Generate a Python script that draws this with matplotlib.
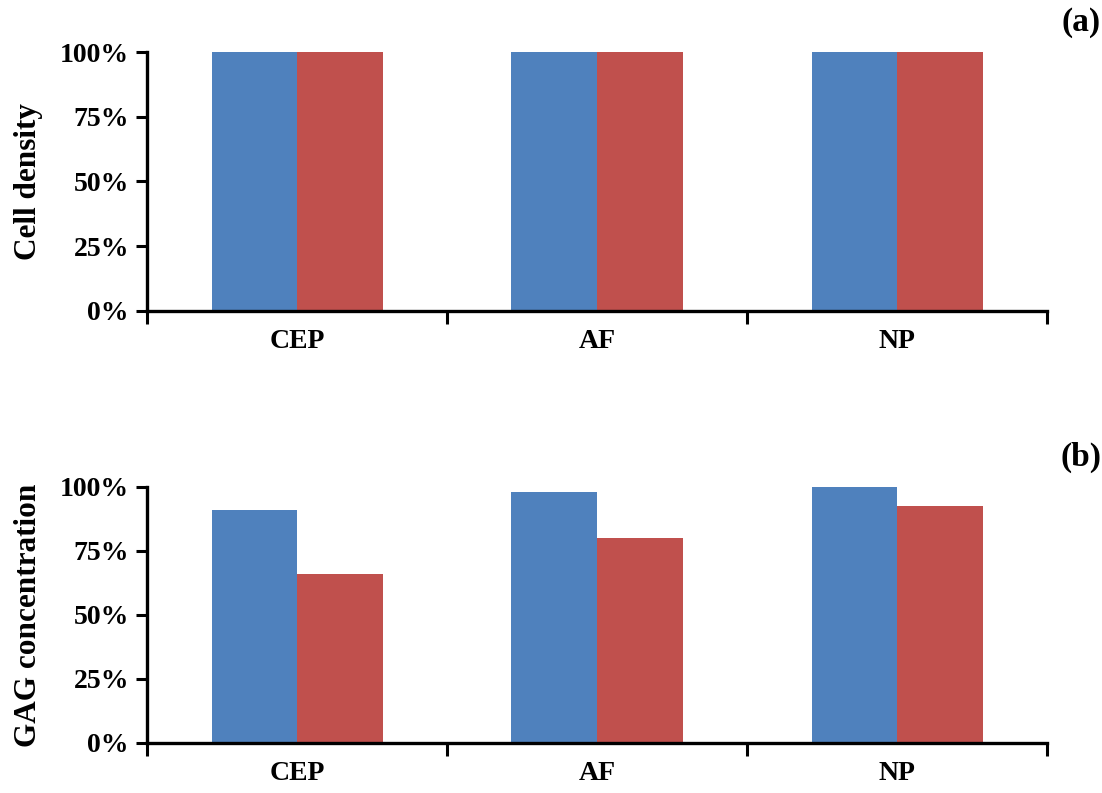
import matplotlib
matplotlib.use("Agg")
import matplotlib.pyplot as plt
from matplotlib.ticker import FixedLocator, FuncFormatter

categories = ["CEP", "AF", "NP"]
cell_density_s1 = [100, 100, 100]
cell_density_s2 = [100, 100, 100]
gag_s1 = [91, 98, 100]
gag_s2 = [66, 80, 92.5]
yticks = [0, 25, 50, 75, 100]
ylabels = ["Cell density", "GAG concentration"]
panel_labels = ["(a)", "(b)"]

plt.rcParams['font.family'] = ['Liberation Serif', 'DejaVu Serif']
plt.rcParams['font.weight'] = 'bold'

fig = plt.figure(figsize=(11.02, 7.93), dpi=100)
ax1 = fig.add_axes([147/1102, 1-311/793, 900/1102, 259/793])
ax2 = fig.add_axes([147/1102, 1-743/793, 900/1102, 256/793])

blue = "#4F81BD"
red = "#C0504D"
w = 0.285

for ax, s1, s2, yl, pl in [(ax1, cell_density_s1, cell_density_s2, ylabels[0], panel_labels[0]),
                           (ax2, gag_s1, gag_s2, ylabels[1], panel_labels[1])]:
    centers = [i + 0.5 for i in range(len(categories))]
    ax.bar([c - w/2 for c in centers], s1, width=w, color=blue, zorder=2)
    ax.bar([c + w/2 for c in centers], s2, width=w, color=red, zorder=2)
    ax.set_xlim(0, len(categories))
    ax.set_ylim(0, 100)
    ax.set_yticks(yticks)
    ax.yaxis.set_major_formatter(FuncFormatter(lambda v, p: f"{int(v)}%"))
    ax.xaxis.set_major_locator(FixedLocator(range(len(categories) + 1)))
    ax.xaxis.set_major_formatter(FuncFormatter(lambda v, p: ""))
    ax.xaxis.set_minor_locator(FixedLocator(centers))
    ax.set_xticklabels(categories, minor=True)
    ax.tick_params(axis='x', which='minor', length=0, pad=13, labelsize=20)
    ax.tick_params(axis='x', which='major', length=9, width=2.2, direction='out')
    ax.tick_params(axis='y', length=8, width=2.2, direction='out', labelsize=20, pad=5)
    for lab in ax.get_xticklabels(minor=True) + ax.get_yticklabels():
        lab.set_fontweight('bold')
    for sp in ['top', 'right']:
        ax.spines[sp].set_visible(False)
    for sp in ['left', 'bottom']:
        ax.spines[sp].set_linewidth(2.4)
    ax.set_ylabel(yl, fontsize=22.5, fontweight='bold', labelpad=12)

fig.text(1101/1102, 1-23/793, panel_labels[0], ha='right', va='center', fontsize=24, fontweight='bold')
fig.text(1101/1102, 1-457/793, panel_labels[1], ha='right', va='center', fontsize=24, fontweight='bold')

fig.savefig("out.png", dpi=100)
